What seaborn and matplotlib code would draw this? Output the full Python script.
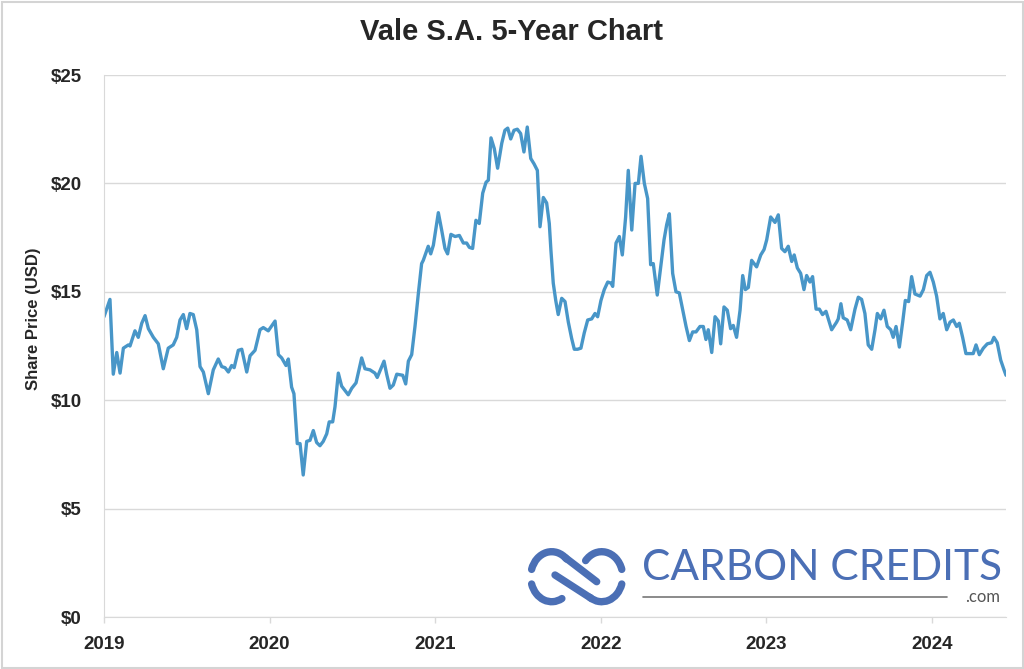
import matplotlib
matplotlib.use("Agg")
import matplotlib.pyplot as plt
import numpy as np
import pandas as pd
import seaborn as sns
from matplotlib.patches import Arc, Rectangle
from matplotlib.lines import Line2D

# ---------------- data ----------------
years = [
    2019.000, 2019.036, 2019.056, 2019.077, 2019.097, 2019.117, 2019.147, 2019.157, 2019.187, 2019.207,
    2019.228, 2019.248, 2019.268, 2019.298, 2019.328, 2019.358, 2019.388, 2019.418, 2019.439, 2019.459,
    2019.479, 2019.499, 2019.519, 2019.539, 2019.560, 2019.580, 2019.600, 2019.630, 2019.660, 2019.690,
    2019.711, 2019.731, 2019.751, 2019.771, 2019.786, 2019.811, 2019.832, 2019.862, 2019.882, 2019.912,
    2019.942, 2019.962, 2019.992, 2020.033, 2020.053, 2020.073, 2020.099, 2020.113, 2020.133, 2020.147,
    2020.167, 2020.184, 2020.203, 2020.224, 2020.244, 2020.264, 2020.284, 2020.304, 2020.324, 2020.345,
    2020.360, 2020.381, 2020.395, 2020.415, 2020.435, 2020.455, 2020.475, 2020.496, 2020.522, 2020.556,
    2020.576, 2020.606, 2020.636, 2020.650, 2020.691, 2020.707, 2020.727, 2020.747, 2020.768, 2020.804,
    2020.822, 2020.838, 2020.858, 2020.878, 2020.898, 2020.918, 2020.928, 2020.958, 2020.973, 2020.989,
    2021.019, 2021.039, 2021.059, 2021.075, 2021.095, 2021.120, 2021.146, 2021.170, 2021.190, 2021.206,
    2021.226, 2021.246, 2021.266, 2021.287, 2021.307, 2021.321, 2021.337, 2021.357, 2021.377, 2021.402,
    2021.421, 2021.438, 2021.456, 2021.476, 2021.496, 2021.516, 2021.536, 2021.556, 2021.577, 2021.597,
    2021.617, 2021.633, 2021.653, 2021.673, 2021.689, 2021.699, 2021.713, 2021.728, 2021.743, 2021.764,
    2021.784, 2021.804, 2021.824, 2021.840, 2021.860, 2021.880, 2021.900, 2021.921, 2021.945, 2021.965,
    2021.981, 2022.001, 2022.021, 2022.042, 2022.062, 2022.072, 2022.092, 2022.112, 2022.130, 2022.150,
    2022.166, 2022.187, 2022.207, 2022.227, 2022.243, 2022.263, 2022.283, 2022.301, 2022.317, 2022.341,
    2022.362, 2022.382, 2022.398, 2022.414, 2022.434, 2022.454, 2022.474, 2022.495, 2022.515, 2022.535,
    2022.555, 2022.575, 2022.599, 2022.619, 2022.635, 2022.649, 2022.670, 2022.690, 2022.710, 2022.724,
    2022.744, 2022.764, 2022.784, 2022.800, 2022.820, 2022.841, 2022.857, 2022.873, 2022.891, 2022.911,
    2022.941, 2022.966, 2022.986, 2023.002, 2023.026, 2023.052, 2023.072, 2023.092, 2023.112, 2023.132,
    2023.153, 2023.168, 2023.187, 2023.207, 2023.227, 2023.243, 2023.263, 2023.279, 2023.300, 2023.320,
    2023.339, 2023.360, 2023.394, 2023.424, 2023.434, 2023.450, 2023.464, 2023.488, 2023.509, 2023.535,
    2023.555, 2023.575, 2023.595, 2023.615, 2023.636, 2023.656, 2023.670, 2023.690, 2023.710, 2023.730,
    2023.751, 2023.766, 2023.783, 2023.803, 2023.823, 2023.839, 2023.859, 2023.877, 2023.897, 2023.928,
    2023.948, 2023.968, 2023.988, 2024.008, 2024.028, 2024.048, 2024.068, 2024.089, 2024.109, 2024.129,
    2024.149, 2024.165, 2024.185, 2024.205, 2024.229, 2024.249, 2024.266, 2024.286, 2024.310, 2024.334,
    2024.360, 2024.374, 2024.394, 2024.415, 2024.435, 2024.447,
]
prices = [
    13.85, 14.65, 11.20, 12.20, 11.25, 12.40, 12.55, 12.50, 13.20, 12.90,
    13.55, 13.90, 13.30, 12.90, 12.60, 11.45, 12.40, 12.55, 12.90, 13.70,
    13.95, 13.30, 14.00, 13.95, 13.25, 11.55, 11.30, 10.30, 11.40, 11.90,
    11.55, 11.50, 11.30, 11.60, 11.50, 12.30, 12.35, 11.30, 12.05, 12.30,
    13.25, 13.35, 13.20, 13.65, 12.10, 11.95, 11.60, 11.90, 10.60, 10.30,
    8.00, 8.00, 6.55, 8.10, 8.15, 8.60, 8.05, 7.90, 8.10, 8.45,
    9.00, 9.00, 9.70, 11.25, 10.65, 10.45, 10.25, 10.55, 10.80, 11.95,
    11.45, 11.40, 11.25, 11.05, 11.80, 11.20, 10.55, 10.70, 11.20, 11.15,
    10.75, 11.80, 12.10, 13.40, 14.90, 16.30, 16.45, 17.10, 16.75, 17.15,
    18.65, 17.85, 17.00, 16.75, 17.65, 17.55, 17.60, 17.25, 17.25, 17.05,
    17.00, 18.30, 18.15, 19.55, 20.05, 20.15, 22.10, 21.60, 20.70, 21.85,
    22.45, 22.55, 22.05, 22.45, 22.50, 22.30, 21.45, 22.60, 21.15, 20.90,
    20.60, 18.00, 19.35, 19.10, 18.15, 16.90, 15.40, 14.60, 13.95, 14.70,
    14.55, 13.60, 12.85, 12.35, 12.35, 12.40, 13.10, 13.70, 13.75, 14.00,
    13.85, 14.60, 15.10, 15.45, 15.40, 15.25, 17.25, 17.55, 16.70, 18.45,
    20.60, 17.85, 20.00, 20.00, 21.25, 20.00, 19.30, 16.25, 16.30, 14.85,
    16.15, 17.40, 18.10, 18.60, 15.85, 15.00, 14.95, 14.15, 13.40, 12.75,
    13.15, 13.15, 13.40, 13.40, 12.80, 13.25, 12.20, 13.85, 13.65, 12.60,
    14.30, 14.15, 13.30, 13.45, 12.90, 14.15, 15.75, 15.10, 15.20, 16.45,
    16.15, 16.70, 16.95, 17.40, 18.45, 18.20, 18.55, 17.00, 16.85, 17.10,
    16.40, 16.70, 16.10, 15.85, 15.10, 15.75, 15.45, 15.70, 14.20, 14.20,
    13.95, 14.10, 13.25, 13.60, 13.75, 14.45, 13.80, 13.70, 13.25, 14.20,
    14.75, 14.65, 14.00, 12.55, 12.35, 13.25, 14.00, 13.75, 14.15, 13.40,
    13.25, 12.90, 13.40, 12.45, 13.60, 14.60, 14.55, 15.70, 14.90, 14.80,
    15.10, 15.75, 15.90, 15.45, 14.80, 13.75, 14.00, 13.25, 13.60, 13.70,
    13.40, 13.55, 12.90, 12.15, 12.15, 12.15, 12.55, 12.10, 12.40, 12.60,
    12.65, 12.90, 12.65, 11.85, 11.40, 11.15,
]
year_ticks = [2019, 2020, 2021, 2022, 2023, 2024]
price_ticks = [0, 5, 10, 15, 20, 25]
title = "Vale S.A. 5-Year Chart"
y_label = "Share Price (USD)"
brand = "CARBON CREDITS"
brand_suffix = ".com"

# ---------------- style ----------------
sns.set_style("white")
plt.rcParams['font.family'] = ['Liberation Sans', 'DejaVu Sans']

LINE = '#4896C8'
GRID = '#d9d9d9'
BRAND = '#4B6FB5'

W, H = 1024, 669
fig = plt.figure(figsize=(W / 100, H / 100), dpi=100)
fig.patch.set_facecolor('white')

ax = fig.add_axes([104 / W, 1 - 617 / H, (1006 - 104) / W, (617 - 75) / H])
df = pd.DataFrame({'year': years, 'price': prices})
sns.lineplot(data=df, x='year', y='price', ax=ax, color=LINE, linewidth=2.4)

ax.set_xlim(2019, 2024.447)
ax.set_ylim(0, 25)
ax.set_yticks(price_ticks)
ax.set_yticklabels([f"${v}" for v in price_ticks])
ax.set_xticks(year_ticks)
ax.set_xticklabels([str(y) for y in year_ticks])
ax.grid(axis='y', color=GRID, linewidth=1.0)
ax.grid(axis='x', visible=False)
ax.set_axisbelow(True)
for s in ['top', 'right']:
    ax.spines[s].set_visible(False)
ax.spines['left'].set_color(GRID)
ax.spines['bottom'].set_color(GRID)
ax.tick_params(axis='y', length=0, pad=16, labelsize=13.5)
ax.tick_params(axis='x', length=4, width=1, color=GRID, pad=10, labelsize=13.5,
               direction='out', bottom=True)
for lab in ax.get_xticklabels() + ax.get_yticklabels():
    lab.set_fontweight('bold')
ax.set_xlabel('')
ax.set_ylabel(y_label, fontsize=12, fontweight='bold')
ax.yaxis.set_label_coords((41 - 104) / 902, 0.55)

fig.text(0.5, 1 - 32 / H, title, ha='center', va='center', fontsize=21,
         fontweight='bold', family=['Liberation Sans Narrow', 'Liberation Sans', 'DejaVu Sans'])

# ---------------- logo (decoration) ----------------
lax = fig.add_axes([515 / W, 1 - 610 / H, 120 / W, 75 / H])
lax.set_xlim(0, 120)
lax.set_ylim(0, 75)
lax.axis('off')
c1 = (36.7, 33.3)
c2 = (86.7, 33.3)
ew, eh = 42, 50
lw = 5.3
for c, t1, t2 in [(c1, 50, 160), (c2, 20, 135), (c1, 200, 295), (c2, 240, 340)]:
    lax.add_patch(Arc(c, ew, eh, theta1=t1, theta2=t2, color=BRAND, lw=lw, capstyle='round'))
pA = (c1[0] + ew / 2 * np.cos(np.radians(50)), c1[1] + eh / 2 * np.sin(np.radians(50)))
lax.add_line(Line2D([pA[0], 81.7], [pA[1], 28.3], color=BRAND, lw=lw, solid_capstyle='round'))
pD = (c2[0] + ew / 2 * np.cos(np.radians(240)), c2[1] + eh / 2 * np.sin(np.radians(240)))
lax.add_line(Line2D([40, pD[0]], [35, pD[1]], color=BRAND, lw=lw, solid_capstyle='round'))

fig.text(642 / W, 1 - 568 / H, brand, ha='left', va='center', fontsize=30.5,
         color=BRAND, family=['Lato', 'DejaVu Sans'])
fig.add_artist(Line2D([643 / W, 947 / W], [1 - 597 / H, 1 - 597 / H], color='#777777', lw=1.2))
fig.text(1000 / W, 1 - 597 / H, brand_suffix, ha='right', va='center', fontsize=12,
         color='#555555', family=['Lato', 'DejaVu Sans'])

# figure border
fig.add_artist(Rectangle((1.5 / W, 1.5 / H), (W - 3) / W, (H - 3) / H, transform=fig.transFigure,
                         fill=False, edgecolor='#d4d4d4', lw=1.5))

fig.savefig('out.png', dpi=100, facecolor='white')
